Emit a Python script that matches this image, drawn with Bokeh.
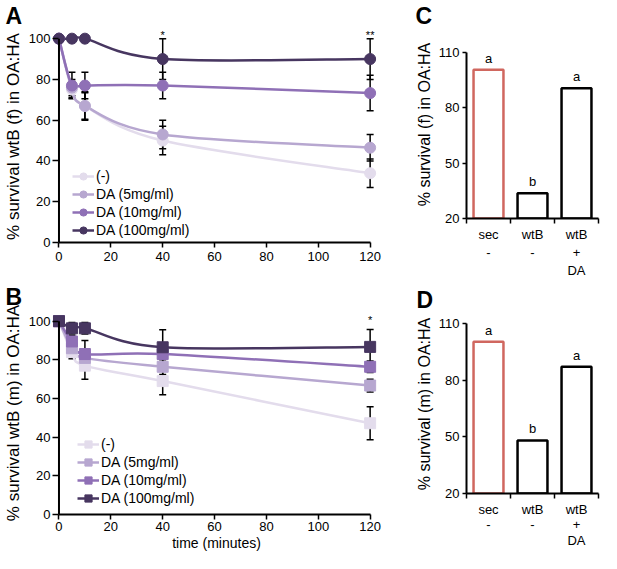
from bokeh.plotting import figure
from bokeh.models import (ColumnDataSource, Whisker, TeeHead, Legend, LegendItem,
                          FixedTicker, Range1d)
from bokeh.layouts import row, column
from bokeh.embed import file_html
from bokeh.resources import INLINE
from bokeh.core.properties import value

FONT = "Liberation Sans"

# ---------------- data ----------------
time_min = [0, 5, 10, 40, 120]
series_labels = ["(-)", "DA (5mg/ml)", "DA (10mg/ml)", "DA (100mg/ml)"]
x_ticks_time = [0, 20, 40, 60, 80, 100, 120]
y_ticks_pct = [0, 20, 40, 60, 80, 100]

# Panel A: wtB (f)
a_none = [100, 75, 67, 50, 34]
a_da5 = [100, 76, 67, 53, 46.5]
a_da10 = [100, 77, 77, 77, 73.3]
a_da100 = [100, 100, 100, 90, 90]
a_none_err = [0, 4, 7, 7, 7]
a_da5_err = [0, 4, 6.5, 7, 6.5]
a_da10_err = [0, 6.5, 6.5, 6.5, 8.7]
a_da100_err = [0, 0, 0, 10, 10]
a_sig_time = [40, 120]
a_sig_text = ["*", "**"]

# Panel B: wtB (m)
b_none = [100, 84, 77, 69, 47.2]
b_da5 = [100, 86, 81, 76.4, 66.7]
b_da10 = [100, 89.5, 83, 83, 76.4]
b_da100 = [100, 96.3, 96.3, 86.5, 86.7]
b_none_err = [0, 3.5, 7, 7, 8.5]
b_da5_err = [0, 3, 4, 4, 3.3]
b_da10_err = [0, 3, 7, 3, 3]
b_da100_err = [0, 3, 3, 9, 9]
b_sig_time = [120]
b_sig_text = ["*"]

# Panels C / D
bar_categories = ["sec\n-", "wtB\n-", "wtB\n+\nDA"]
c_values = [100.4, 33.7, 90.4]
d_values = [100.4, 48.1, 87.2]
c_letters = ["a", "b", "a"]
d_letters = ["a", "b", "a"]
bar_y_ticks = [20, 50, 80, 110]

series_colors = ["#e3dcec", "#b7a7d0", "#8f70b6", "#473660"]
bar_line_colors = ["#d0675f", "#000000", "#000000"]


def bezier_data(xs, ys):
    n = len(xs)
    d = dict(x0=[], y0=[], x1=[], y1=[], cx0=[], cy0=[], cx1=[], cy1=[])
    for i in range(n - 1):
        a = max(i - 1, 0)
        b = min(i + 2, n - 1)
        d["x0"].append(xs[i]); d["y0"].append(ys[i])
        d["x1"].append(xs[i + 1]); d["y1"].append(ys[i + 1])
        d["cx0"].append(xs[i] + (xs[i + 1] - xs[a]) / 6.0)
        d["cy0"].append(ys[i] + (ys[i + 1] - ys[a]) / 6.0)
        d["cx1"].append(xs[i + 1] - (xs[b] - xs[i]) / 6.0)
        d["cy1"].append(ys[i + 1] - (ys[b] - ys[i]) / 6.0)
    return d


def style_axis(ax, fs="13px"):
    ax.axis_line_color = "black"
    ax.axis_line_width = 2
    ax.major_tick_line_color = "black"
    ax.major_tick_line_width = 1.5
    ax.major_tick_in = 0
    ax.major_tick_out = 5
    ax.minor_tick_line_color = None
    ax.major_label_text_font = FONT
    ax.major_label_text_font_size = fs
    ax.major_label_text_color = "black"
    ax.major_label_standoff = 4
    ax.axis_label_text_font = FONT
    ax.axis_label_text_font_style = "normal"
    ax.axis_label_text_color = "black"


def base_fig(w, h, xr, yr, mbl, mbr, mbt, mbb, letter, letter_offset):
    p = figure(width=w, height=h, x_range=Range1d(*xr), y_range=Range1d(*yr),
               output_backend="svg", toolbar_location=None,
               min_border_left=mbl, min_border_right=mbr,
               min_border_top=mbt, min_border_bottom=mbb)
    p.outline_line_color = None
    p.grid.visible = False
    p.background_fill_color = "white"
    p.border_fill_color = "white"
    for ax in p.axis:
        style_axis(ax)
    p.title.text = letter
    p.title.align = "left"
    p.title.offset = letter_offset
    p.title.standoff = 0
    p.title.vertical_align = "top"
    p.title.text_font = FONT
    p.title.text_font_size = "23px"
    p.title.text_font_style = "bold"
    p.title.text_color = "black"
    return p


def line_panel(p, vals_list, errs_list, marker, msize, sig_time, sig_text, sig_off,
               legend_loc, ylabel, tick_in):
    line_rs, pt_rs = [], []
    for vals, col in zip(vals_list, series_colors):
        src = ColumnDataSource(bezier_data(time_min, vals))
        line_rs.append(p.bezier(x0="x0", y0="y0", x1="x1", y1="y1", cx0="cx0", cy0="cy0",
                                cx1="cx1", cy1="cy1", source=src, line_color=col,
                                line_width=2.5))
    for vals, errs in zip(vals_list, errs_list):
        idx = [i for i, e in enumerate(errs) if e > 0]
        ws = ColumnDataSource(dict(x=[time_min[i] for i in idx],
                                   upper=[vals[i] + errs[i] for i in idx],
                                   lower=[vals[i] - errs[i] for i in idx]))
        p.add_layout(Whisker(source=ws, base="x", upper="upper", lower="lower",
                             line_color="black", line_width=1.5,
                             upper_head=TeeHead(size=7, line_color="black", line_width=1.5),
                             lower_head=TeeHead(size=7, line_color="black", line_width=1.5)))
    for vals, col in zip(vals_list, series_colors):
        pt_rs.append(p.scatter(x=time_min, y=vals, marker=marker, size=msize,
                               fill_color=col, line_color=col))
    # y axis line drawn at t = 0, from the first to the last y tick
    p.segment(x0=[x_ticks_time[0]], y0=[y_ticks_pct[0]], x1=[x_ticks_time[0]],
              y1=[y_ticks_pct[-1]], line_color="black", line_width=2)
    # significance marks above the highest error bar at that time
    sig_y = []
    for t in sig_time:
        i = time_min.index(t)
        sig_y.append(max(v[i] + e[i] for v, e in zip(vals_list, errs_list)))
    p.text(x=sig_time, y=sig_y, text=sig_text, text_align="center", text_baseline="middle",
           y_offset=sig_off, text_font=value(FONT), text_font_size="11px", text_color="black")
    items = [LegendItem(label=lab, renderers=[lr, pr])
             for lab, lr, pr in zip(series_labels, line_rs, pt_rs)]
    leg = Legend(items=items, location=legend_loc, background_fill_alpha=0,
                 border_line_color=None, label_text_font=FONT, label_text_font_size="14px",
                 label_text_color="black", glyph_width=22, glyph_height=18, label_height=18,
                 spacing=0, padding=0, margin=0, label_standoff=2)
    p.add_layout(leg)
    p.xaxis.ticker = FixedTicker(ticks=x_ticks_time)
    p.yaxis.ticker = FixedTicker(ticks=y_ticks_pct)
    p.xaxis.bounds = (x_ticks_time[0], x_ticks_time[-1])
    p.yaxis.axis_line_color = None
    p.yaxis.major_tick_out = 0
    p.yaxis.major_tick_in = tick_in
    p.yaxis.major_label_standoff = 2
    p.yaxis.axis_label = ylabel
    p.yaxis.axis_label_text_font_size = "17px"
    p.yaxis.axis_label_standoff = 3


# ---------------- Panel A ----------------
pA = base_fig(412, 275, (-2.5, 124), (0, 104), 0, 26, 30, 33, "A", -47)
line_panel(pA, [a_none, a_da5, a_da10, a_da100],
           [a_none_err, a_da5_err, a_da10_err, a_da100_err],
           "circle", 11, a_sig_time, a_sig_text, -4, (20, 3),
           "% survival wtB (f) in OA:HA", 6)

# ---------------- Panel B ----------------
pB = base_fig(412, 278, (-2.5, 124), (0, 105), 0, 32, 36, 0, "B", -47)
line_panel(pB, [b_none, b_da5, b_da10, b_da100],
           [b_none_err, b_da5_err, b_da10_err, b_da100_err],
           "square", 11, b_sig_time, b_sig_text, -9, (25, 7),
           "% survival wtB (m) in OA:HA", 6)
pB.xaxis.axis_label = "time (minutes)"
pB.xaxis.axis_label_text_font_size = "14px"
pB.xaxis.axis_label_standoff = 1
pB.xaxis.major_label_standoff = 2


# ---------------- Panels C / D ----------------
def bar_panel(h, mbl, mbr, mbt, mbb, y_top, vals, letters, ylabel, lab_standoff, lab_lh,
              letter):
    n = len(bar_categories)
    bar_x = [i + 0.5 for i in range(n)]
    p = base_fig(189, h, (0, n), (bar_y_ticks[0], y_top), mbl, mbr, mbt, mbb,
                 letter, -mbl)
    p.vbar(x=bar_x, bottom=bar_y_ticks[0], top=vals, width=0.68, fill_color="white",
           line_color=bar_line_colors, line_width=2.5)
    p.text(x=bar_x, y=vals, text=letters, text_align="center", text_baseline="bottom",
           y_offset=-4, text_font=value(FONT), text_font_size="13px", text_color="black")
    p.yaxis.ticker = FixedTicker(ticks=bar_y_ticks)
    p.yaxis.bounds = (bar_y_ticks[0], bar_y_ticks[-1])
    p.yaxis.major_tick_out = 4
    p.yaxis.major_label_standoff = 3
    p.yaxis.axis_label = ylabel
    p.yaxis.axis_label_text_font_size = "16px"
    p.yaxis.axis_label_standoff = 3
    p.xaxis.ticker = FixedTicker(ticks=bar_x, minor_ticks=list(range(n + 1)))
    p.xaxis.major_label_overrides = {x: c for x, c in zip(bar_x, bar_categories)}
    p.xaxis.major_tick_out = 0
    p.xaxis.minor_tick_line_color = "black"
    p.xaxis.minor_tick_line_width = 1.5
    p.xaxis.minor_tick_in = 0
    p.xaxis.minor_tick_out = 5
    p.xaxis.major_label_standoff = lab_standoff
    p.xaxis.major_label_text_line_height = lab_lh
    return p


pC = bar_panel(284, 51, 2, 30, 66, 121.7, c_values, c_letters, "% survival (f) in OA:HA",
               3, 1.2, "C")
pD = bar_panel(269, 50, 3, 30, 60, 114.9, d_values, d_letters, "% survival (m) in OA:HA",
               3, 1.05, "D")

layout = row(column(pA, pB), column(pC, pD))
open("out.html", "w").write(file_html(layout, INLINE))
